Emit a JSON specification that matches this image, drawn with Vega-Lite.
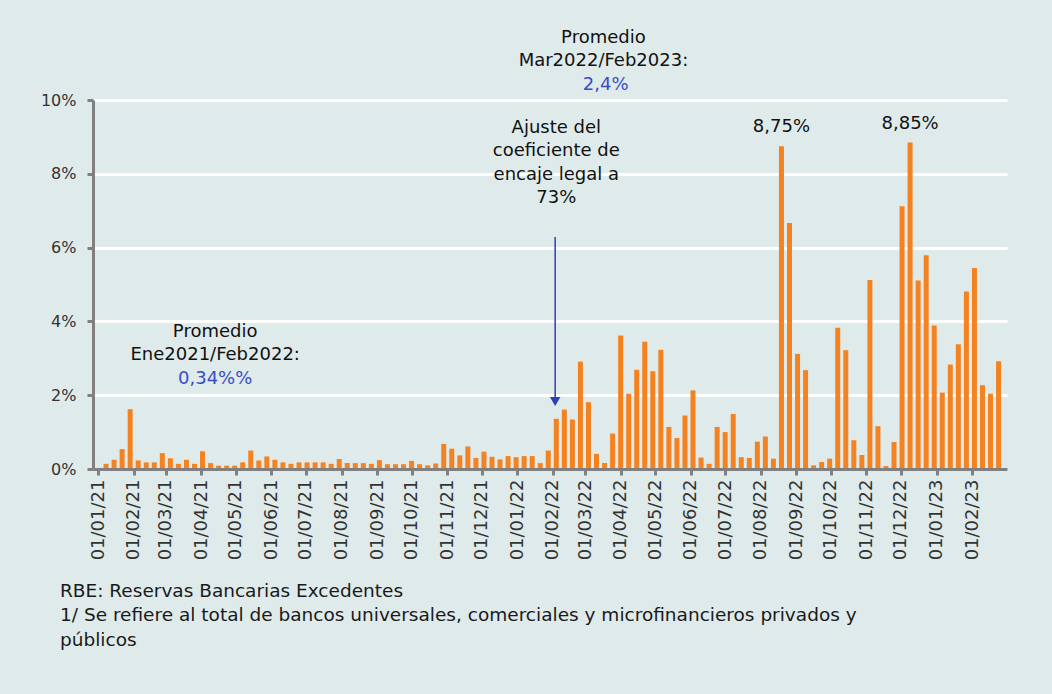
{
  "$schema": "https://vega.github.io/schema/vega-lite/v6.json",
  "width": 914,
  "height": 369,
  "autosize": "none",
  "padding": {"left": 93, "top": 100, "right": 45, "bottom": 225},
  "background": "#dfeaea",
  "config": {
    "font": "DejaVu Sans",
    "view": {"stroke": null}
  },
  "title": {
    "text": ["RBE: Reservas Bancarias Excedentes", "1/ Se refiere al total de bancos universales, comerciales y microfinancieros privados y", "públicos"],
    "orient": "bottom",
    "anchor": "start",
    "frame": "group",
    "dx": -33,
    "offset": 22,
    "fontSize": 18.5,
    "fontWeight": "normal",
    "lineHeight": 24.5,
    "color": "#1a1a1a",
    "font": "DejaVu Sans"
  },
  "datasets": {
    "rbe": [
      {"fecha": "2021-01-08", "valor": 0.14},
      {"fecha": "2021-01-15", "valor": 0.25},
      {"fecha": "2021-01-22", "valor": 0.54},
      {"fecha": "2021-01-29", "valor": 1.62},
      {"fecha": "2021-02-05", "valor": 0.23},
      {"fecha": "2021-02-12", "valor": 0.18},
      {"fecha": "2021-02-19", "valor": 0.18},
      {"fecha": "2021-02-26", "valor": 0.43},
      {"fecha": "2021-03-05", "valor": 0.29},
      {"fecha": "2021-03-12", "valor": 0.14},
      {"fecha": "2021-03-19", "valor": 0.25},
      {"fecha": "2021-03-26", "valor": 0.14},
      {"fecha": "2021-04-02", "valor": 0.48},
      {"fecha": "2021-04-09", "valor": 0.16},
      {"fecha": "2021-04-16", "valor": 0.09},
      {"fecha": "2021-04-23", "valor": 0.09},
      {"fecha": "2021-04-30", "valor": 0.09},
      {"fecha": "2021-05-07", "valor": 0.18},
      {"fecha": "2021-05-14", "valor": 0.50},
      {"fecha": "2021-05-21", "valor": 0.23},
      {"fecha": "2021-05-28", "valor": 0.34},
      {"fecha": "2021-06-04", "valor": 0.25},
      {"fecha": "2021-06-11", "valor": 0.18},
      {"fecha": "2021-06-18", "valor": 0.14},
      {"fecha": "2021-06-25", "valor": 0.18},
      {"fecha": "2021-07-02", "valor": 0.18},
      {"fecha": "2021-07-09", "valor": 0.18},
      {"fecha": "2021-07-16", "valor": 0.18},
      {"fecha": "2021-07-23", "valor": 0.14},
      {"fecha": "2021-07-30", "valor": 0.27},
      {"fecha": "2021-08-06", "valor": 0.16},
      {"fecha": "2021-08-13", "valor": 0.16},
      {"fecha": "2021-08-20", "valor": 0.16},
      {"fecha": "2021-08-27", "valor": 0.14},
      {"fecha": "2021-09-03", "valor": 0.24},
      {"fecha": "2021-09-10", "valor": 0.13},
      {"fecha": "2021-09-17", "valor": 0.13},
      {"fecha": "2021-09-24", "valor": 0.13},
      {"fecha": "2021-10-01", "valor": 0.22},
      {"fecha": "2021-10-08", "valor": 0.13},
      {"fecha": "2021-10-15", "valor": 0.10},
      {"fecha": "2021-10-22", "valor": 0.15},
      {"fecha": "2021-10-29", "valor": 0.68},
      {"fecha": "2021-11-05", "valor": 0.55},
      {"fecha": "2021-11-12", "valor": 0.37},
      {"fecha": "2021-11-19", "valor": 0.61},
      {"fecha": "2021-11-26", "valor": 0.30},
      {"fecha": "2021-12-03", "valor": 0.47},
      {"fecha": "2021-12-10", "valor": 0.33},
      {"fecha": "2021-12-17", "valor": 0.26},
      {"fecha": "2021-12-24", "valor": 0.35},
      {"fecha": "2021-12-31", "valor": 0.32},
      {"fecha": "2022-01-07", "valor": 0.35},
      {"fecha": "2022-01-14", "valor": 0.35},
      {"fecha": "2022-01-21", "valor": 0.16},
      {"fecha": "2022-01-28", "valor": 0.50},
      {"fecha": "2022-02-04", "valor": 1.36},
      {"fecha": "2022-02-11", "valor": 1.61},
      {"fecha": "2022-02-18", "valor": 1.34},
      {"fecha": "2022-02-25", "valor": 2.91},
      {"fecha": "2022-03-04", "valor": 1.81},
      {"fecha": "2022-03-11", "valor": 0.41},
      {"fecha": "2022-03-18", "valor": 0.16},
      {"fecha": "2022-03-25", "valor": 0.96},
      {"fecha": "2022-04-01", "valor": 3.62},
      {"fecha": "2022-04-08", "valor": 2.04},
      {"fecha": "2022-04-15", "valor": 2.69},
      {"fecha": "2022-04-22", "valor": 3.45},
      {"fecha": "2022-04-29", "valor": 2.65},
      {"fecha": "2022-05-06", "valor": 3.23},
      {"fecha": "2022-05-13", "valor": 1.14},
      {"fecha": "2022-05-20", "valor": 0.84},
      {"fecha": "2022-05-27", "valor": 1.45},
      {"fecha": "2022-06-03", "valor": 2.13},
      {"fecha": "2022-06-10", "valor": 0.31},
      {"fecha": "2022-06-17", "valor": 0.14},
      {"fecha": "2022-06-24", "valor": 1.14},
      {"fecha": "2022-07-01", "valor": 1.00},
      {"fecha": "2022-07-08", "valor": 1.49},
      {"fecha": "2022-07-15", "valor": 0.32},
      {"fecha": "2022-07-22", "valor": 0.30},
      {"fecha": "2022-07-29", "valor": 0.74},
      {"fecha": "2022-08-05", "valor": 0.88},
      {"fecha": "2022-08-12", "valor": 0.28},
      {"fecha": "2022-08-19", "valor": 8.75},
      {"fecha": "2022-08-26", "valor": 6.67},
      {"fecha": "2022-09-02", "valor": 3.12},
      {"fecha": "2022-09-09", "valor": 2.68},
      {"fecha": "2022-09-16", "valor": 0.10},
      {"fecha": "2022-09-23", "valor": 0.19},
      {"fecha": "2022-09-30", "valor": 0.28},
      {"fecha": "2022-10-07", "valor": 3.83},
      {"fecha": "2022-10-14", "valor": 3.22},
      {"fecha": "2022-10-21", "valor": 0.78},
      {"fecha": "2022-10-28", "valor": 0.38},
      {"fecha": "2022-11-04", "valor": 5.12},
      {"fecha": "2022-11-11", "valor": 1.16},
      {"fecha": "2022-11-18", "valor": 0.08},
      {"fecha": "2022-11-25", "valor": 0.73},
      {"fecha": "2022-12-02", "valor": 7.12},
      {"fecha": "2022-12-09", "valor": 8.85},
      {"fecha": "2022-12-16", "valor": 5.11},
      {"fecha": "2022-12-23", "valor": 5.79},
      {"fecha": "2022-12-30", "valor": 3.89},
      {"fecha": "2023-01-06", "valor": 2.07},
      {"fecha": "2023-01-13", "valor": 2.83},
      {"fecha": "2023-01-20", "valor": 3.38},
      {"fecha": "2023-01-27", "valor": 4.81},
      {"fecha": "2023-02-03", "valor": 5.45},
      {"fecha": "2023-02-10", "valor": 2.27},
      {"fecha": "2023-02-17", "valor": 2.04},
      {"fecha": "2023-02-24", "valor": 2.92}
    ],
    "notas": [
      {"fecha": "2022-03-17", "valor": 11.68, "texto": "Promedio\nMar2022/Feb2023:"},
      {"fecha": "2022-02-04", "valor": 9.24, "texto": "Ajuste del\ncoeficiente de\nencaje legal a\n73%"},
      {"fecha": "2021-04-13", "valor": 3.71, "texto": "Promedio\nEne2021/Feb2022:"},
      {"fecha": "2022-08-19", "valor": 9.27, "texto": "8,75%"},
      {"fecha": "2022-12-09", "valor": 9.35, "texto": "8,85%"}
    ],
    "promedios": [
      {"fecha": "2022-03-19", "valor": 10.41, "texto": "2,4%"},
      {"fecha": "2021-04-13", "valor": 2.44, "texto": "0,34%%"}
    ],
    "flecha": [
      {"fecha": "2022-02-03", "valor": 6.29, "valor2": 1.95}
    ],
    "punta": [
      {"fecha": "2022-02-03", "valor": 1.83}
    ]
  },
  "encoding": {
    "x": {
      "field": "fecha",
      "type": "temporal",
      "scale": {"type": "utc", "domain": [1609459200000, 1677456000000]},
      "axis": {
        "title": null,
        "values": [1609459200000, 1612137600000, 1614556800000, 1617235200000, 1619827200000, 1622505600000, 1625097600000, 1627776000000, 1630454400000, 1633046400000, 1635724800000, 1638316800000, 1640995200000, 1643673600000, 1646092800000, 1648771200000, 1651363200000, 1654041600000, 1656633600000, 1659312000000, 1661990400000, 1664582400000, 1667260800000, 1669852800000, 1672531200000, 1675209600000],
        "labelExpr": "utcFormat(datum.value, '%d/%m/%y')",
        "labelAngle": -90,
        "labelFontSize": 18,
        "labelColor": "#333333",
        "labelPadding": 4,
        "labelFlush": false,
        "labelOverlap": false,
        "labelBound": false,
        "domainColor": "#808080",
        "domainWidth": 3,
        "tickColor": "#808080",
        "tickWidth": 3,
        "tickSize": 6,
        "grid": false,
        "zindex": 1
      }
    },
    "y": {
      "field": "valor",
      "type": "quantitative",
      "scale": {"domain": [0, 10], "nice": false},
      "axis": {
        "title": null,
        "values": [0, 2, 4, 6, 8, 10],
        "labelExpr": "datum.value + '%'",
        "labelFontSize": 16,
        "labelColor": "#333333",
        "labelPadding": 11,
        "domainColor": "#808080",
        "domainWidth": 3,
        "tickColor": "#808080",
        "tickWidth": 3,
        "tickSize": 6,
        "grid": true,
        "gridColor": "#ffffff",
        "gridWidth": 3,
        "gridOpacity": 1,
        "zindex": 0
      }
    }
  },
  "layer": [
    {
      "data": {"name": "rbe"},
      "mark": {"type": "bar", "width": 5, "color": "#f58220"}
    },
    {
      "data": {"name": "notas"},
      "mark": {"type": "text", "fontSize": 18, "color": "#111111", "lineBreak": "\n", "lineHeight": 23.3, "align": "center", "baseline": "middle"},
      "encoding": {
        "text": {"field": "texto"}
      }
    },
    {
      "data": {"name": "promedios"},
      "mark": {"type": "text", "fontSize": 18, "color": "#3b4cc6", "align": "center", "baseline": "middle"},
      "encoding": {
        "text": {"field": "texto"}
      }
    },
    {
      "data": {"name": "flecha"},
      "mark": {"type": "rule", "color": "#2f3fb5", "strokeWidth": 1.5},
      "encoding": {
        "y2": {"field": "valor2"}
      }
    },
    {
      "data": {"name": "punta"},
      "mark": {"type": "point", "shape": "triangle-down", "filled": true, "size": 110, "color": "#2f3fb5", "opacity": 1}
    }
  ]
}
